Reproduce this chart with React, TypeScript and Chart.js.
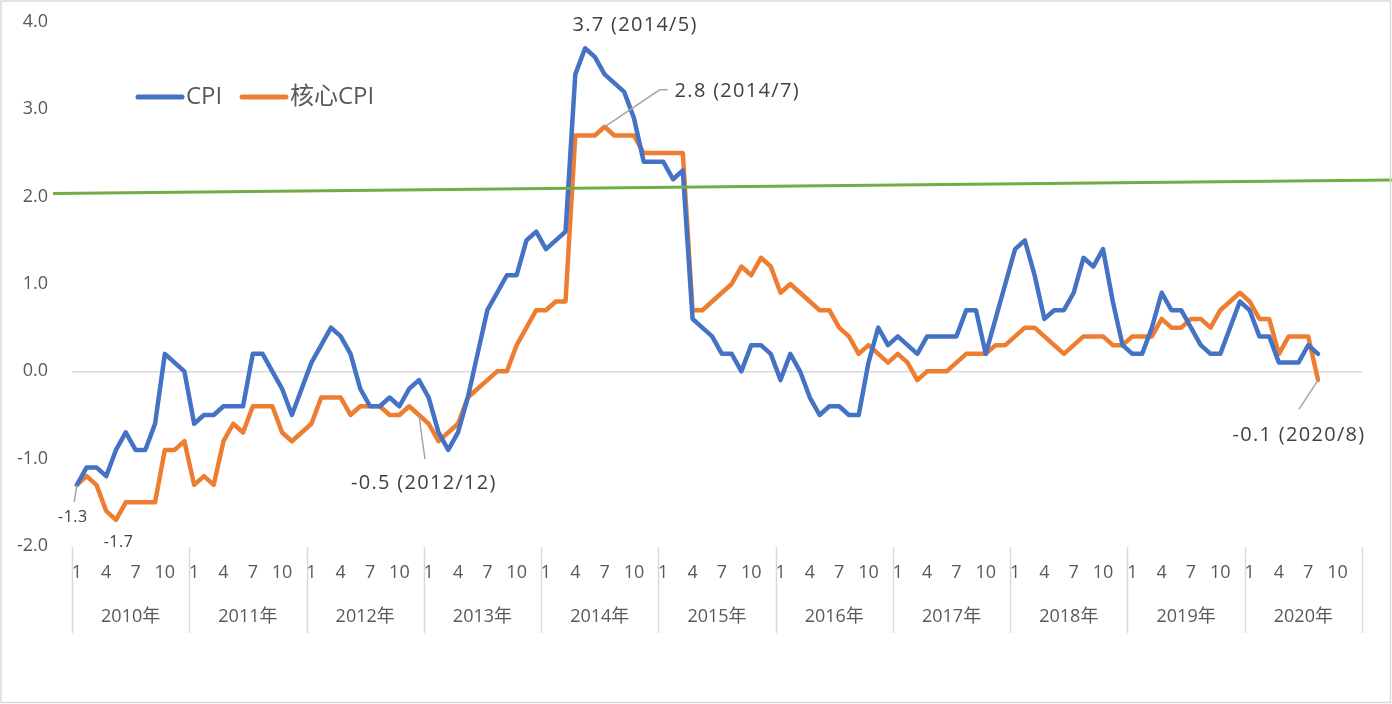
import React, { useEffect, useRef } from "react";
import { Chart, registerables } from "chart.js";

Chart.register(...registerables);

// ---------- data ----------
const YEARS = [2010, 2011, 2012, 2013, 2014, 2015, 2016, 2017, 2018, 2019, 2020];
const MONTHS = [1, 2, 3, 4, 5, 6, 7, 8, 9, 10, 11, 12];
const MONTH_TICKS = [1, 4, 7, 10];

const CPI = [
  // 2010
  -1.3, -1.1, -1.1, -1.2, -0.9, -0.7, -0.9, -0.9, -0.6, 0.2, 0.1, 0.0,
  // 2011
  -0.6, -0.5, -0.5, -0.4, -0.4, -0.4, 0.2, 0.2, 0.0, -0.2, -0.5, -0.2,
  // 2012
  0.1, 0.3, 0.5, 0.4, 0.2, -0.2, -0.4, -0.4, -0.3, -0.4, -0.2, -0.1,
  // 2013
  -0.3, -0.7, -0.9, -0.7, -0.3, 0.2, 0.7, 0.9, 1.1, 1.1, 1.5, 1.6,
  // 2014
  1.4, 1.5, 1.6, 3.4, 3.7, 3.6, 3.4, 3.3, 3.2, 2.9, 2.4, 2.4,
  // 2015
  2.4, 2.2, 2.3, 0.6, 0.5, 0.4, 0.2, 0.2, 0.0, 0.3, 0.3, 0.2,
  // 2016
  -0.1, 0.2, 0.0, -0.3, -0.5, -0.4, -0.4, -0.5, -0.5, 0.1, 0.5, 0.3,
  // 2017
  0.4, 0.3, 0.2, 0.4, 0.4, 0.4, 0.4, 0.7, 0.7, 0.2, 0.6, 1.0,
  // 2018
  1.4, 1.5, 1.1, 0.6, 0.7, 0.7, 0.9, 1.3, 1.2, 1.4, 0.8, 0.3,
  // 2019
  0.2, 0.2, 0.5, 0.9, 0.7, 0.7, 0.5, 0.3, 0.2, 0.2, 0.5, 0.8,
  // 2020
  0.7, 0.4, 0.4, 0.1, 0.1, 0.1, 0.3, 0.2,
];

const CORE_CPI = [
  // 2010
  -1.3, -1.2, -1.3, -1.6, -1.7, -1.5, -1.5, -1.5, -1.5, -0.9, -0.9, -0.8,
  // 2011
  -1.3, -1.2, -1.3, -0.8, -0.6, -0.7, -0.4, -0.4, -0.4, -0.7, -0.8, -0.7,
  // 2012
  -0.6, -0.3, -0.3, -0.3, -0.5, -0.4, -0.4, -0.4, -0.5, -0.5, -0.4, -0.5,
  // 2013
  -0.6, -0.8, -0.7, -0.6, -0.3, -0.2, -0.1, 0.0, 0.0, 0.3, 0.5, 0.7,
  // 2014
  0.7, 0.8, 0.8, 2.7, 2.7, 2.7, 2.8, 2.7, 2.7, 2.7, 2.5, 2.5,
  // 2015
  2.5, 2.5, 2.5, 0.7, 0.7, 0.8, 0.9, 1.0, 1.2, 1.1, 1.3, 1.2,
  // 2016
  0.9, 1.0, 0.9, 0.8, 0.7, 0.7, 0.5, 0.4, 0.2, 0.3, 0.2, 0.1,
  // 2017
  0.2, 0.1, -0.1, 0.0, 0.0, 0.0, 0.1, 0.2, 0.2, 0.2, 0.3, 0.3,
  // 2018
  0.4, 0.5, 0.5, 0.4, 0.3, 0.2, 0.3, 0.4, 0.4, 0.4, 0.3, 0.3,
  // 2019
  0.4, 0.4, 0.4, 0.6, 0.5, 0.5, 0.6, 0.6, 0.5, 0.7, 0.8, 0.9,
  // 2020
  0.8, 0.6, 0.6, 0.2, 0.4, 0.4, 0.4, -0.1,
];

const SERIES_NAMES = ["CPI", "核心CPI"];
const TARGET_LINE = [2.035, 2.19]; // green reference line: value at left end, value at right end
const Y_MIN = -2;
const Y_MAX = 4;
const Y_STEP = 1;

// callouts: series index, point index, text
const CALLOUTS = [
  { series: 0, index: 0, text: "-1.3" },
  { series: 1, index: 4, text: "-1.7" },
  { series: 1, index: 35, text: "-0.5 (2012/12)" },
  { series: 0, index: 52, text: "3.7 (2014/5)" },
  { series: 1, index: 54, text: "2.8 (2014/7)" },
  { series: 1, index: 127, text: "-0.1 (2020/8)" },
];

// ---------- styles / layout ----------
const FONT = '"Open Sans", "Noto Sans CJK TC", sans-serif';
const COLORS = ["#4472C4", "#ED7D31"];
const GREEN = "#70AD47";
const AXIS_TEXT = "#595959";
const NOTE_TEXT = "#404040";
const LEADER = "#a6a6a6";
const SEP = "#d9d9d9";

// per-callout style: text offset from point, leader path offsets, size, alignment
const CALLOUT_STYLE = [
  { dx: -4, dy: 33, size: 16, align: "center", leader: [[-2.7, 17]] },
  { dx: 2.5, dy: 23, size: 16, align: "center", leader: [] },
  { dx: 5, dy: 68, size: 20, align: "center", leader: [[6, 44]] },
  { dx: 50, dy: -23, size: 20, align: "center", leader: [] },
  { dx: 70, dy: -36, size: 20, align: "left", leader: [[55, -37], [63, -37]] },
  { dx: -19, dy: 55, size: 20, align: "center", leader: [[-19, 29]] },
];

const LABELS: string[] = [];
YEARS.forEach((y) => MONTHS.forEach((m) => LABELS.push(`${y}/${m}`)));

const decorPlugin = {
  id: "decor",
  afterDatasetsDraw(chart: any) {
    const { ctx, chartArea, scales } = chart;
    const xs = scales.x;
    const ys = scales.y;
    ctx.save();

    // green reference line
    ctx.strokeStyle = GREEN;
    ctx.lineWidth = 3;
    ctx.beginPath();
    ctx.moveTo(chartArea.left - 19, ys.getPixelForValue(TARGET_LINE[0]));
    ctx.lineTo(chart.width, ys.getPixelForValue(TARGET_LINE[1]));
    ctx.stroke();

    // year separators & labels
    const catW = (xs.right - xs.left) / LABELS.length;
    ctx.strokeStyle = SEP;
    ctx.lineWidth = 1.5;
    for (let k = 0; k <= YEARS.length; k++) {
      const x = Math.round(xs.left + k * MONTHS.length * catW) + 0.5;
      ctx.beginPath();
      ctx.moveTo(x, chartArea.bottom + 1);
      ctx.lineTo(x, chartArea.bottom + 87);
      ctx.stroke();
    }
    ctx.fillStyle = AXIS_TEXT;
    ctx.font = `18px ${FONT}`;
    ctx.textAlign = "center";
    ctx.textBaseline = "middle";
    YEARS.forEach((yr, k) => {
      const cx = xs.left + (k + 0.5) * MONTHS.length * catW;
      ctx.fillText(`${yr}年`, cx, chartArea.bottom + 71);
    });

    // callouts
    const seriesData = [CPI, CORE_CPI];
    CALLOUTS.forEach((c, i) => {
      const st = CALLOUT_STYLE[i];
      const px = xs.getPixelForValue(c.index);
      const py = ys.getPixelForValue(seriesData[c.series][c.index]);
      if (st.leader.length) {
        ctx.strokeStyle = LEADER;
        ctx.lineWidth = 1.5;
        ctx.beginPath();
        ctx.moveTo(px, py);
        st.leader.forEach(([lx, ly]) => ctx.lineTo(px + lx, py + ly));
        ctx.stroke();
      }
      ctx.fillStyle = NOTE_TEXT;
      ctx.font = `${st.size}px ${FONT}`;
      (ctx as any).letterSpacing = st.size >= 20 ? "1.3px" : "0.5px";
      ctx.textAlign = st.align;
      ctx.textBaseline = "middle";
      ctx.fillText(c.text, px + st.dx, py + st.dy);
    });
    (ctx as any).letterSpacing = "0px";

    // legend
    ctx.font = `24px ${FONT}`;
    ctx.textAlign = "left";
    ctx.textBaseline = "middle";
    let lx = chartArea.left + 66;
    const ly = chartArea.top + 75;
    SERIES_NAMES.forEach((name, i) => {
      ctx.strokeStyle = COLORS[i];
      ctx.lineWidth = 5;
      ctx.lineCap = "round";
      ctx.beginPath();
      ctx.moveTo(lx, ly);
      ctx.lineTo(lx + 44, ly);
      ctx.stroke();
      ctx.fillStyle = AXIS_TEXT;
      ctx.fillText(name, lx + 48, ly);
      lx += 104;
    });

    // outer border
    ctx.strokeStyle = SEP;
    ctx.lineWidth = 1.5;
    ctx.lineCap = "butt";
    ctx.strokeRect(1, 1, chart.width - 2.5, chart.height - 2.5);
    ctx.restore();
  },
};

export default function App() {
  const ref = useRef<HTMLCanvasElement | null>(null);

  useEffect(() => {
    if (!ref.current) return;
    const chart = new Chart(ref.current, {
      type: "line",
      data: {
        labels: LABELS,
        datasets: [
          {
            label: SERIES_NAMES[0],
            data: CPI,
            borderColor: COLORS[0],
            backgroundColor: COLORS[0],
            borderWidth: 4.5,
            pointRadius: 0,
            tension: 0,
            borderJoinStyle: "round",
            borderCapStyle: "round",
          },
          {
            label: SERIES_NAMES[1],
            data: CORE_CPI,
            borderColor: COLORS[1],
            backgroundColor: COLORS[1],
            borderWidth: 4.5,
            pointRadius: 0,
            tension: 0,
            borderJoinStyle: "round",
            borderCapStyle: "round",
          },
        ],
      },
      options: {
        responsive: false,
        animation: false,
        layout: { padding: { left: 0, right: 30, top: 22, bottom: 58 } },
        plugins: {
          legend: { display: false },
          tooltip: { enabled: false },
        },
        scales: {
          x: {
            type: "category",
            offset: true,
            grid: { display: false, drawTicks: false },
            border: { display: false },
            ticks: {
              autoSkip: false,
              maxRotation: 0,
              minRotation: 0,
              padding: 16,
              color: AXIS_TEXT,
              font: { family: FONT, size: 18 },
              callback: (_v: any, index: number) => {
                const m = MONTHS[index % MONTHS.length];
                return MONTH_TICKS.includes(m) ? String(m) : "";
              },
            },
            afterFit: (s: any) => {
              s.height = 100;
              s.paddingLeft = 0;
              s.paddingRight = 0;
            },
          },
          y: {
            min: Y_MIN,
            max: Y_MAX,
            grid: {
              drawTicks: false,
              lineWidth: 1.5,
              color: (c: any) => (c.tick && c.tick.value === 0 ? SEP : "rgba(0,0,0,0)"),
            },
            border: { display: false },
            ticks: {
              stepSize: Y_STEP,
              padding: 24,
              color: AXIS_TEXT,
              font: { family: FONT, size: 18 },
              callback: (v: any) => Number(v).toFixed(1),
            },
            afterFit: (s: any) => {
              s.width = 72;
              s.paddingTop = 0;
              s.paddingBottom = 0;
            },
          },
        },
      },
      plugins: [decorPlugin],
    } as any);
    return () => chart.destroy();
  }, []);

  return (
    <div style={{ position: "fixed", left: 0, top: 0, width: 1392, height: 704, background: "#fff" }}>
      <canvas ref={ref} width={1392} height={704} style={{ display: "block", width: 1392, height: 704 }} />
    </div>
  );
}
